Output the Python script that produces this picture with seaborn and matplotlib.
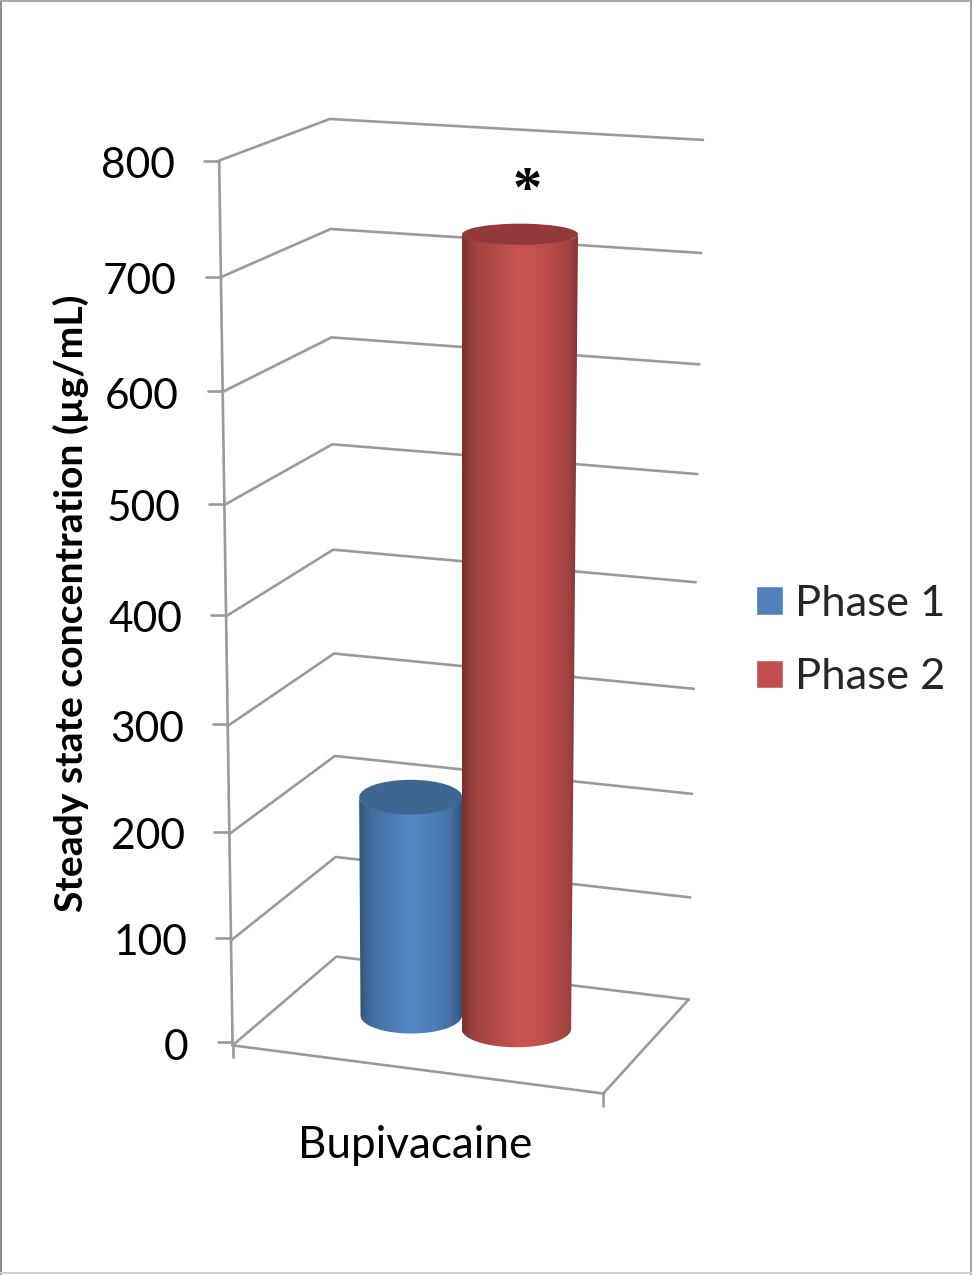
import numpy as np
import pandas as pd
import matplotlib
matplotlib.use("Agg")
import matplotlib.pyplot as plt
import seaborn as sns
from matplotlib.colors import LinearSegmentedColormap, to_rgb
from matplotlib.patches import Ellipse, PathPatch
from matplotlib.path import Path
from matplotlib.transforms import Affine2D

# Measurements
drug = ["Bupivacaine"]
phases = ["Phase 1", "Phase 2"]
concentration = [210, 730]
value_ticks = [0, 100, 200, 300, 400, 500, 600, 700, 800]
value_label = "Steady state concentration (µg/mL)"
phase_colors = ["#4F81BD", "#C0504D"]
cap_colors = ["#3F6591", "#923A3A"]
girth = [0.96, 1.02]
nudge_px = [0.0, -1.5]

W, H = 972, 1275
GRID = "#9A9A9A"
FONT_PT = 30.6
LEGEND_PT = 31.3

sns.set_theme(style="white")
plt.rcParams["font.family"] = ["Lato", "DejaVu Sans"]

fig = plt.figure(figsize=(W / 100, H / 100), dpi=100, facecolor="white")
ax = fig.add_axes([0, 0, 1, 1])
px = Affine2D().scale(1 / W, -1 / H).translate(0, 1) + fig.transFigure

# Perspective camera of the 3-D chart box: (across, depth, height) -> pixel
box_world = np.array([(0, 0, 0), (1, 0, 0), (1, 1, 0), (0, 1, 0),
                      (0, 0, 1), (0, 1, 1), (1, 1, 1)], float)
box_pixel = np.array([(233, 1045), (603, 1094), (689, 999), (336, 957),
                      (219, 160.5), (330, 119), (703, 140)], float)
rows = []
for (a, d, h), (x, y) in zip(box_world, box_pixel):
    rows.append([a, d, h, 1, 0, 0, 0, 0, -x * a, -x * d, -x * h, -x])
    rows.append([0, 0, 0, 0, a, d, h, 1, -y * a, -y * d, -y * h, -y])
camera = np.linalg.svd(np.array(rows))[2][-1].reshape(3, 4)


def project(across, depth, value):
    p = camera @ np.array([across, depth, value / value_ticks[-1], 1.0])
    return p[:2] / p[2]


def stroke(points, lw=1.9, color=GRID, z=1):
    xs, ys = zip(*points)
    ax.plot(xs, ys, transform=px, color=color, lw=lw, solid_capstyle="round",
            clip_on=False, scalex=False, scaley=False, zorder=z)


# Bars
frame = pd.DataFrame({"drug": drug * 2, "phase": phases, "concentration": concentration})
sns.barplot(data=frame, x="drug", y="concentration", hue="phase", palette=phase_colors,
            width=0.59, saturation=1, ax=ax)
ax.set_xlim(-0.5, 0.5)
ax.set_ylim(0, value_ticks[-1])

# Walls, floor and ticks
for v in value_ticks:
    front, back, right = project(0, 0, v), project(0, 1, v), project(1, 1, v)
    stroke([front, back, right])
    tick_y = front[1] - 3 * (1 - v / 800)
    stroke([(front[0] - 15, tick_y), (front[0], tick_y)])
    ax.text(front[0] - 44, tick_y + 2, str(v), transform=px, ha="right",
            va="center_baseline", fontsize=FONT_PT, color="black")
stroke([project(0, 0, 0), project(0, 0, value_ticks[-1])])
floor = [project(0, 0, 0), project(1, 0, 0), project(1, 1, 0)]
stroke(floor)
for corner in floor[:2]:
    stroke([corner, corner + np.array([0, 12])])

# Round shading across each cylinder
shade_at = [0.0, 0.03, 0.12, 0.30, 0.50, 0.72, 0.90, 0.97, 1.0]
shade = [0.60, 0.70, 0.84, 0.94, 1.06, 0.98, 0.86, 0.72, 0.60]

for i, container in enumerate(ax.containers):
    bar = container.patches[0]
    mid = bar.get_x() + bar.get_width() / 2 + 0.5
    half = bar.get_width() / 2 * girth[i]
    value = bar.get_height()
    z = 3 + i

    base = project(mid, 0.5, 0)
    top = project(mid, 0.5, value)
    lb, rb = project(mid - half, 0.5, 0)[0] + nudge_px[i], project(mid + half, 0.5, 0)[0] + nudge_px[i]
    lt, rt = project(mid - half, 0.5, value)[0] + nudge_px[i], project(mid + half, 0.5, value)[0] + nudge_px[i]
    dip_b = project(mid, 0.4, 0)[1] - project(mid, 0.6, 0)[1]
    dip_t = project(mid, 0.39, value)[1] - project(mid, 0.61, value)[1]

    # The bar itself, carried from data units onto its place in the box
    to_box = (Affine2D().translate(-bar.get_x(), 0)
              .scale((rb - lb) / bar.get_width(), (top[1] - base[1]) / value)
              .translate(lb, base[1]) + px)
    bar.set_transform(to_box)
    bar.set_clip_on(False)
    bar.set_linewidth(0)
    bar.set_zorder(z)

    t = np.linspace(0, np.pi, 60)
    lower = np.column_stack([(lb + rb) / 2 - (rb - lb) / 2 * np.cos(t), base[1] + dip_b * np.sin(t)])
    upper = np.column_stack([(lt + rt) / 2 + (rt - lt) / 2 * np.cos(t), top[1] + dip_t * np.sin(t)])
    outline = np.vstack([lower, upper, lower[:1]])
    body = PathPatch(Path(outline), facecolor="none", edgecolor="none", transform=px, clip_on=False, zorder=z)
    ax.add_patch(body)

    rgb = np.array(to_rgb(phase_colors[i]))
    cmap = LinearSegmentedColormap.from_list(
        phases[i], [(s, tuple(np.clip(rgb * m, 0, 1))) for s, m in zip(shade_at, shade)])
    sweep = np.linspace(0, 1, 256)[None, :]
    image = ax.imshow(sweep, cmap=cmap, extent=[min(lt, lb), max(rt, rb), base[1] + dip_b + 2, top[1] - 2],
                      transform=px, aspect="auto", interpolation="bilinear", zorder=z + 0.1, clip_on=True)
    image.set_clip_path(body)

    ax.add_patch(Ellipse(((lt + rt) / 2, top[1]), rt - lt, 2 * dip_t, transform=px,
                         facecolor=cap_colors[i], edgecolor="none", clip_on=False, zorder=z + 0.2))

ax.set_xlim(-0.5, 0.5)
ax.set_ylim(0, value_ticks[-1])

# Text around the box
ax.text(71, 603, value_label, transform=px, rotation=90, ha="center", va="center",
        fontsize=28.2, fontweight="bold", color="black")
ax.text(415, 1146, drug[0], transform=px, ha="center", va="center", fontsize=31.7, color="black")
ax.text(527, 192, "*", transform=px, ha="center", va="center", fontsize=42, fontweight="bold",
        family="Liberation Serif", color="black", zorder=6)

# Legend
sns.move_legend(ax, loc="upper left", bbox_to_anchor=(755.5 / W, 1 - 585 / H), frameon=False, title=None,
                fontsize=LEGEND_PT, handlelength=0.64, handleheight=0.64, handletextpad=0.28,
                labelspacing=0.81, borderpad=0, borderaxespad=0)

ax.set_axis_off()

# Slide border
for ends, shade_col in [(((1, 0), (1, H)), "#8A8A8A"), (((0, 0.5), (W, 0.5)), "#A8A8A8"),
                        (((W - 1, 0), (W - 1, H)), "#A0A0A0"), (((0, H - 2), (W, H - 2)), "#CFCFCF")]:
    stroke(ends, lw=1.4, color=shade_col, z=8)

fig.savefig("out.png", dpi=100, facecolor="white")
